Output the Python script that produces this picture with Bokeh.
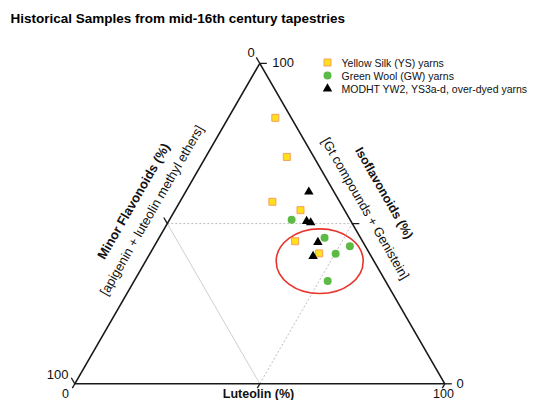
import math
from bokeh.plotting import figure
from bokeh.models import Range1d
from bokeh.core.properties import value
from bokeh.embed import file_html
from bokeh.resources import INLINE

# ---------------- data ----------------
title_text = "Historical Samples from mid-16th century tapestries"
series_names = ["Yellow Silk (YS) yarns", "Green Wool (GW) yarns",
                "MODHT YW2, YS3a-d, over-dyed yarns"]

# Yellow Silk (YS) yarns  [Minor flavonoids, Luteolin, Isoflavonoids] (%)
ys_minor = [4.3, 7.3, 18.2, 11.9, 18.2, 13.6]
ys_luteolin = [12.7, 21.9, 25.0, 33.9, 37.3, 45.7]
ys_iso = [83.0, 70.8, 56.8, 54.2, 44.5, 40.7]

# Green Wool (GW) yarns
gw_minor = [15.8, 9.7, 4.2, 9.2, 15.6]
gw_luteolin = [33.0, 44.7, 52.9, 50.2, 52.3]
gw_iso = [51.2, 45.6, 42.9, 40.6, 32.1]

# MODHT YW2, YS3a-d over-dyed yarns
od_minor = [6.8, 12.0, 11.1, 12.2, 15.7]
od_luteolin = [33.3, 37.3, 38.6, 43.6, 44.5]
od_iso = [59.9, 50.7, 50.3, 44.2, 39.8]

axis_titles = ["Minor Flavonoids (%)", "Luteolin (%)", "Isoflavonoids (%)"]
axis_subtitles = ["[apigenin + luteolin methyl ethers]", "[Gt compounds + Genistein]"]
tick_values = [0, 50, 100]

# ---------------- helpers ----------------
S3 = math.sqrt(3) / 2


def tern(minor, lut, iso):
    xs, ys = [], []
    for m, l, i in zip(minor, lut, iso):
        t = m + l + i
        xs.append((l + i / 2.0) / t)
        ys.append(i * S3 / t)
    return xs, ys


PX = 370.0   # pixels per triangle edge
X0, Y0 = 74.3, 389.3   # bottom-left vertex (layout pixels)
YSHIFT = 6.0           # triangle drawn 6px higher so the bottom labels fit


def px(x, y):
    # layout pixel -> data coordinate
    return (x - X0) / PX, (Y0 - y) / PX


FONT = value("Liberation Sans")

p = figure(width=528, height=400, output_backend="svg", toolbar_location=None,
           x_axis_location=None, y_axis_location=None,
           x_range=Range1d((0 - X0) / PX, (528 - X0) / PX),
           y_range=Range1d((Y0 - (400 + YSHIFT)) / PX, (Y0 - YSHIFT) / PX),
           min_border=0, min_border_left=0, min_border_right=0,
           min_border_top=0, min_border_bottom=0)
p.outline_line_color = None
p.grid.grid_line_color = None
p.background_fill_color = "white"
p.border_fill_color = "white"

# ---------- inner grid lines at 50 % ----------
lm = tern([50], [0], [50])
bm = tern([50], [50], [0])
rm = tern([0], [50], [50])
p.line([lm[0][0], bm[0][0]], [lm[1][0], bm[1][0]], line_color="#cfcfcf", line_width=1)
p.line([lm[0][0], rm[0][0]], [lm[1][0], rm[1][0]], line_color="#bdbdbd", line_width=1,
       line_dash="2 2")
p.line([bm[0][0], rm[0][0]], [bm[1][0], rm[1][0]], line_color="#bdbdbd", line_width=1,
       line_dash="2 2")

# ---------- triangle ----------
tx, ty = tern([100, 0, 0, 100], [0, 100, 0, 0], [0, 0, 100, 0])
p.line(tx, ty, line_color="#1a1a1a", line_width=1.6)

# ---------- ticks ----------
TL = 7.0 / PX
TLB = 5.0 / PX
tick_xs, tick_ys = [], []
for v in tick_values:
    x, y = tern([v], [0], [100 - v])       # left axis (minor)
    tick_xs.append([x[0], x[0] - 0.5 * TL]); tick_ys.append([y[0], y[0] + S3 * TL])
    x, y = tern([100 - v], [v], [0])       # bottom axis (luteolin)
    tick_xs.append([x[0], x[0] - 0.5 * TLB]); tick_ys.append([y[0], y[0] - S3 * TLB])
    x, y = tern([0], [100 - v], [v])       # right axis (iso)
    tick_xs.append([x[0], x[0] + TL]); tick_ys.append([y[0], y[0]])
p.multi_line(tick_xs, tick_ys, line_color="#1a1a1a", line_width=1.3)


def label(txt, x, y, size="13px", align="center", bold=False, angle=0.0, color="#111111"):
    p.text([x], [y], text=[txt], text_font=FONT, text_font_size=size,
           text_align=align, text_baseline="middle", angle=angle,
           text_font_style="bold" if bold else "normal", text_color=color)


# ---------- tick labels ----------
label("0", *px(250.7, 57.7))
label("100", *px(57.2, 380.0))
label("0", *px(65.0, 399.0), size="12.5px")
label("100", *px(443.0, 399.0), size="12.5px")
label("100", *px(271.7, 68.3), align="left")
label("0", *px(459.7, 389.3))

# ---------- axis titles ----------
label(axis_titles[0], *px(133.0, 206.7), size="13px", bold=True, angle=math.pi / 3)
label(axis_subtitles[0], *px(151.2, 215.8), size="13px", angle=math.pi / 3)
label(axis_titles[2], *px(383.5, 198.5), size="12.5px", bold=True, angle=-math.pi / 3)
label(axis_subtitles[1], *px(365.0, 214.0), size="13px", angle=-math.pi / 3)
label(axis_titles[1], *px(258.0, 399.0), size="12.5px", bold=True)

# ---------- title (kept at its own page position) ----------
label(title_text, *px(10.0, 17.5 + YSHIFT), size="13.5px", align="left", bold=True,
      color="#000000")

# ---------- highlight ellipse ----------
ex, ey = px(319.2, 266.7)
p.ellipse([ex], [ey], width=87.0 / PX, height=64.7 / PX, fill_color=None,
          line_color="#e8342c", line_width=1.6)

# ---------- data points ----------
YS_FILL, YS_LINE = "#ffe01a", "#f4a060"
GW_FILL = "#5cbb45"
OD_FILL = "#000000"

x, y = tern(ys_minor, ys_luteolin, ys_iso)
p.scatter(x, y, marker="square", size=7, fill_color=YS_FILL, line_color=YS_LINE, line_width=1)
x, y = tern(gw_minor, gw_luteolin, gw_iso)
p.scatter(x, y, marker="circle", size=8, fill_color=GW_FILL, line_color=None)
x, y = tern(od_minor, od_luteolin, od_iso)
p.scatter(x, y, marker="triangle", size=9.5, fill_color=OD_FILL, line_color=None)

# ---------- legend (manual, at its own page position) ----------
leg_rows = [62.0, 75.0, 88.3]
mx, tx0 = 327.0, 341.0
pts = [px(mx, r + YSHIFT) for r in leg_rows]
p.scatter([pts[0][0]], [pts[0][1]], marker="square", size=7,
          fill_color=YS_FILL, line_color=YS_LINE, line_width=1)
p.scatter([pts[1][0]], [pts[1][1]], marker="circle", size=8,
          fill_color=GW_FILL, line_color=None)
p.scatter([pts[2][0]], [pts[2][1]], marker="triangle", size=9.5,
          fill_color=OD_FILL, line_color=None)
for name, row in zip(series_names, leg_rows):
    label(name, *px(tx0, row + YSHIFT), size="10.5px", align="left")

open("out.html", "w").write(file_html(p, INLINE))
